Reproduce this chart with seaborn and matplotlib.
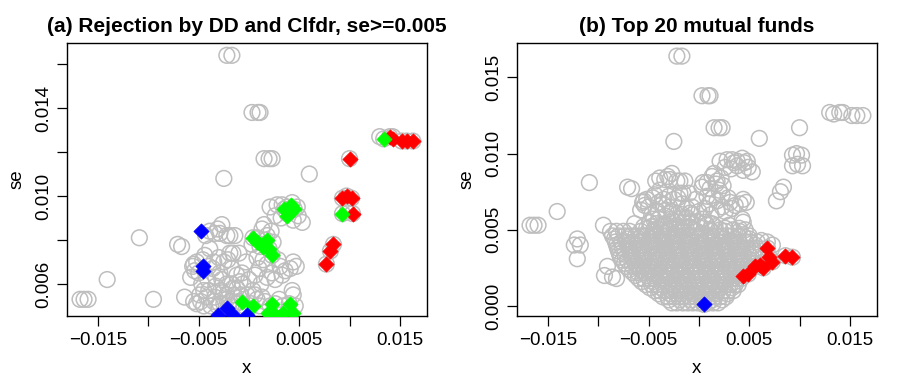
import numpy as np
import pandas as pd
import matplotlib
matplotlib.use("Agg")
import matplotlib.pyplot as plt
import seaborn as sns

sns.set_style("ticks")
plt.rcParams['font.family'] = ['Liberation Sans', 'DejaVu Sans']
plt.rcParams['text.color'] = 'black'
plt.rcParams['axes.labelcolor'] = 'black'

# funds with se >= 0.005
upper_x = [-0.0168, -0.0164, -0.0160, -0.0141, -0.0109, -0.0095, -0.0071, -0.0067, -0.0064,
           -0.0022, -0.0017, 0.0003, 0.0009, 0.0011, 0.0015, 0.0020, 0.0023, -0.0025, 0.0060,
           0.0100, 0.0130, 0.0134, 0.0140, 0.0143, 0.0152, 0.0157, 0.0163,
           0.0093, 0.0102, 0.0097, 0.0093, 0.0103, 0.0098, 0.0084, 0.0081, 0.0077,
           0.0021, 0.0028, 0.0033, 0.0038, 0.0043, 0.0048, 0.0053, 0.0044, 0.0026, 0.0032,
           0.0049, 0.0038, 0.0045, 0.0035,
           0.0013, 0.0018, 0.0008, 0.0004, 0.0015, 0.0022, 0.0024, 0.0011, 0.0020, 0.0023,
           0.0017, 0.0003,
           0.0018, 0.0029, 0.0044, 0.0041, 0.0023, 0.0033, 0.0018, 0.0031, 0.0036, 0.0047,
           0.0026, 0.0043, 0.0044,
           -0.0039, -0.0034, -0.0027, -0.0029, -0.0022, -0.0019, -0.0014, -0.0043, -0.0031,
           -0.0039, -0.0019, -0.0010, -0.0016, -0.0035, -0.0025, -0.0030, -0.0044, -0.0021,
           -0.0055, -0.0054, -0.0056, -0.0050, -0.0017, -0.0036, -0.0029, -0.0027, -0.0017,
           -0.0009, -0.0022, -0.0033, -0.0041, -0.0047, -0.0012,
           -0.0049, -0.0042, -0.0035, -0.0029, -0.0022, -0.0015, -0.0012, -0.0006, 0.0004,
           -0.0016, -0.0002, -0.0022, -0.0052, -0.0045, -0.0038, -0.0031, -0.0025, -0.0018,
           -0.0010, -0.0005, 0.0002, 0.0008, 0.0011, -0.0008, -0.0026, -0.0040,
           0.0026, 0.0034, 0.0016, 0.0021, 0.0040, 0.0046, 0.0030,
           -0.0058, -0.0052, -0.0046, -0.0040, -0.0033, -0.0045, -0.0028, -0.0007, 0.0000,
           0.0006, 0.0012, 0.0010, 0.0008, 0.0014, -0.0003, -0.0055, -0.0048, -0.0034,
           -0.0019, -0.0013, 0.0006, 0.0013]
upper_se = [0.0053, 0.0053, 0.0053, 0.0062, 0.0081, 0.0053, 0.0078, 0.0077, 0.0054,
            0.0164, 0.0164, 0.0138, 0.0138, 0.0138, 0.0117, 0.0117, 0.0117, 0.0108, 0.0110,
            0.0117, 0.0127, 0.0126, 0.0127, 0.0127, 0.0125, 0.0125, 0.0125,
            0.0099, 0.0099, 0.0100, 0.0092, 0.0092, 0.0093, 0.0078, 0.0075, 0.0069,
            0.0095, 0.0096, 0.0096, 0.0095, 0.0097, 0.0095, 0.0088, 0.0089, 0.0091, 0.0090,
            0.0091, 0.0092, 0.0094, 0.0094,
            0.0085, 0.0082, 0.0081, 0.0081, 0.0087, 0.0084, 0.0079, 0.0077, 0.0076, 0.0073,
            0.0080, 0.0078,
            0.0069, 0.0071, 0.0070, 0.0067, 0.0065, 0.0064, 0.0063, 0.0068, 0.0066, 0.0068,
            0.0062, 0.0057, 0.0055,
            0.0084, 0.0083, 0.0087, 0.0083, 0.0082, 0.0082, 0.0082, 0.0082, 0.0085,
            0.0076, 0.0074, 0.0074, 0.0074, 0.0070, 0.0070, 0.0072, 0.0073, 0.0071,
            0.0069, 0.0066, 0.0068, 0.0065, 0.0067, 0.0067, 0.0065, 0.0062, 0.0060,
            0.0061, 0.0060, 0.0063, 0.0062, 0.0060, 0.0064,
            0.0055, 0.0054, 0.0052, 0.0051, 0.0053, 0.0055, 0.0058, 0.0060, 0.0057,
            0.0058, 0.0055, 0.0055, 0.0051, 0.0050, 0.0050, 0.0050, 0.0051, 0.0050,
            0.0052, 0.0050, 0.0051, 0.0053, 0.0050, 0.0055, 0.0056, 0.0057,
            0.0051, 0.0050, 0.0052, 0.0050, 0.0051, 0.0050, 0.0053,
            0.0063, 0.0070, 0.0071, 0.0068, 0.0059, 0.0057, 0.0057, 0.0065, 0.0062,
            0.0064, 0.0060, 0.0067, 0.0072, 0.0071, 0.0070, 0.0052, 0.0052, 0.0054,
            0.0052, 0.0051, 0.0055, 0.0054]

# scattered funds with se < 0.005 outside the main cloud
loose_x = [-0.0124, -0.0121, -0.0118, -0.0121, -0.0094, -0.0091, -0.0086, -0.0082,
           0.0062, 0.0068, 0.0073]
loose_se = [0.0040, 0.0044, 0.0040, 0.0031, 0.0020, 0.0026, 0.0019, 0.0018,
            0.0043, 0.0042, 0.0040]

# main cloud of panel b, one row of funds per se level
cloud_se = [0.0002, 0.0006, 0.0010, 0.0014, 0.0018, 0.0022, 0.0026, 0.0030,
            0.0034, 0.0038, 0.0042, 0.0046, 0.0049,
            0.0004, 0.0008, 0.0012, 0.0016, 0.0020, 0.0024, 0.0028, 0.0032,
            0.0036, 0.0040, 0.0044]
cloud_x = [
    [-0.0027, -0.0022, -0.0016, -0.0011, -0.0006, -0.0001, 0.0004, 0.0009, 0.0014, 0.0019],
    [-0.0036, -0.0031, -0.0025, -0.0020, -0.0015, -0.0010, -0.0004, 0.0001, 0.0006, 0.0011,
     0.0016, 0.0021, 0.0027],
    [-0.0044, -0.0039, -0.0034, -0.0028, -0.0023, -0.0018, -0.0012, -0.0007, -0.0002, 0.0003,
     0.0008, 0.0013, 0.0019, 0.0024, 0.0029, 0.0034],
    [-0.0053, -0.0047, -0.0042, -0.0036, -0.0031, -0.0026, -0.0020, -0.0015, -0.0010, -0.0005,
     0.0000, 0.0005, 0.0011, 0.0016, 0.0021, 0.0026, 0.0031, 0.0036, 0.0039],
    [-0.0060, -0.0055, -0.0049, -0.0044, -0.0038, -0.0033, -0.0028, -0.0022, -0.0017, -0.0012,
     -0.0007, -0.0002, 0.0003, 0.0008, 0.0013, 0.0018, 0.0023, 0.0028, 0.0033, 0.0038, 0.0042],
    [-0.0066, -0.0061, -0.0055, -0.0050, -0.0045, -0.0039, -0.0034, -0.0029, -0.0024, -0.0018,
     -0.0013, -0.0008, -0.0003, 0.0002, 0.0007, 0.0012, 0.0017, 0.0022, 0.0027, 0.0032,
     0.0037, 0.0041, 0.0045],
    [-0.0072, -0.0066, -0.0061, -0.0056, -0.0050, -0.0045, -0.0040, -0.0034, -0.0029, -0.0024,
     -0.0019, -0.0013, -0.0008, -0.0003, 0.0002, 0.0007, 0.0012, 0.0018, 0.0023, 0.0028,
     0.0033, 0.0038, 0.0043, 0.0048],
    [-0.0076, -0.0071, -0.0065, -0.0060, -0.0055, -0.0049, -0.0044, -0.0039, -0.0033, -0.0028,
     -0.0023, -0.0017, -0.0012, -0.0007, -0.0002, 0.0003, 0.0009, 0.0014, 0.0019, 0.0024,
     0.0030, 0.0035, 0.0040, 0.0045, 0.0051],
    [-0.0079, -0.0074, -0.0068, -0.0063, -0.0058, -0.0052, -0.0047, -0.0041, -0.0036, -0.0031,
     -0.0025, -0.0020, -0.0015, -0.0010, -0.0004, 0.0001, 0.0006, 0.0012, 0.0017, 0.0022,
     0.0028, 0.0033, 0.0038, 0.0044, 0.0049, 0.0054],
    [-0.0081, -0.0076, -0.0070, -0.0065, -0.0059, -0.0054, -0.0049, -0.0043, -0.0038, -0.0033,
     -0.0027, -0.0022, -0.0017, -0.0011, -0.0006, -0.0001, 0.0005, 0.0010, 0.0015, 0.0021,
     0.0026, 0.0031, 0.0037, 0.0042, 0.0047, 0.0052, 0.0057],
    [-0.0083, -0.0077, -0.0072, -0.0066, -0.0061, -0.0056, -0.0050, -0.0045, -0.0040, -0.0034,
     -0.0029, -0.0024, -0.0018, -0.0013, -0.0008, -0.0002, 0.0003, 0.0008, 0.0014, 0.0019,
     0.0024, 0.0030, 0.0035, 0.0040, 0.0046, 0.0051, 0.0058],
    [-0.0086, -0.0080, -0.0074, -0.0068, -0.0063, -0.0057, -0.0052, -0.0047, -0.0041, -0.0036,
     -0.0031, -0.0025, -0.0020, -0.0015, -0.0009, -0.0004, 0.0001, 0.0007, 0.0012, 0.0017,
     0.0023, 0.0028, 0.0033, 0.0039, 0.0044, 0.0050],
    [-0.0088, -0.0082, -0.0075, -0.0069, -0.0058, -0.0044, -0.0030, -0.0016, -0.0002, 0.0012,
     0.0026, 0.0040],
    [-0.0030, -0.0019, -0.0008, 0.0003, 0.0013, 0.0023],
    [-0.0040, -0.0029, -0.0018, -0.0005, 0.0006, 0.0017, 0.0028],
    [-0.0049, -0.0038, -0.0026, -0.0014, -0.0003, 0.0009, 0.0021, 0.0033],
    [-0.0057, -0.0046, -0.0034, -0.0023, -0.0011, 0.0001, 0.0013, 0.0025, 0.0036],
    [-0.0063, -0.0052, -0.0040, -0.0029, -0.0016, -0.0004, 0.0008, 0.0020, 0.0032, 0.0040],
    [-0.0069, -0.0058, -0.0047, -0.0036, -0.0025, -0.0013, -0.0001, 0.0011, 0.0024, 0.0036,
     0.0046],
    [-0.0074, -0.0063, -0.0052, -0.0041, -0.0030, -0.0018, -0.0006, 0.0006, 0.0018, 0.0030,
     0.0042, 0.0050],
    [-0.0078, -0.0066, -0.0054, -0.0043, -0.0031, -0.0019, -0.0007, 0.0005, 0.0017, 0.0029,
     0.0041, 0.0052],
    [-0.0080, -0.0068, -0.0056, -0.0044, -0.0032, -0.0020, -0.0008, 0.0004, 0.0016, 0.0028,
     0.0040, 0.0055],
    [-0.0082, -0.0070, -0.0058, -0.0046, -0.0034, -0.0022, -0.0010, 0.0002, 0.0014, 0.0026,
     0.0038, 0.0056],
    [-0.0084, -0.0072, -0.0060, -0.0048, -0.0036, -0.0024, -0.0012, 0.0000, 0.0012, 0.0024,
     0.0036, 0.0050],
]

# panel a: rejections
a_red_x = [0.0100, 0.0140, 0.0143, 0.0152, 0.0157, 0.0163, 0.0093, 0.0102, 0.0097, 0.0103,
           0.0084, 0.0081, 0.0077]
a_red_se = [0.0117, 0.0127, 0.0126, 0.0125, 0.0125, 0.0125, 0.0099, 0.0099, 0.0100, 0.0092,
            0.0078, 0.0075, 0.0069]
a_green_x = [0.0134, 0.0093, 0.0035, 0.0042, 0.0045, 0.0038, 0.0004, 0.0008, 0.0018, 0.0014,
             0.0020, 0.0023, -0.0007, 0.0004, 0.0023, 0.0019, 0.0041, 0.0044, 0.0034, 0.0026]
a_green_se = [0.0126, 0.0092, 0.0094, 0.0096, 0.0094, 0.0091, 0.0081, 0.0079, 0.0080, 0.0077,
              0.0076, 0.0073, 0.0052, 0.0050, 0.0051, 0.0047, 0.0051, 0.0047, 0.0047, 0.0046]
a_blue_x = [-0.0048, -0.0046, -0.0046, -0.0022, -0.0031, -0.0016, -0.0002]
a_blue_se = [0.0084, 0.0068, 0.0066, 0.0049, 0.0046, 0.0046, 0.0046]

# panel b: top 20 funds
b_red_x = [0.0068, 0.0073, 0.0070, 0.0086, 0.0093, 0.0064, 0.0056, 0.0049, 0.0044, 0.0061]
b_red_se = [0.0038, 0.0029, 0.0032, 0.0033, 0.0032, 0.0025, 0.0026, 0.0021, 0.0020, 0.0027]
b_blue_x = [0.0005]
b_blue_se = [0.0001]

cloud = pd.DataFrame({'x': [v for row in cloud_x for v in row],
                      'se': [s for s, row in zip(cloud_se, cloud_x) for _ in row]})
funds = pd.concat([pd.DataFrame({'x': upper_x, 'se': upper_se}),
                   pd.DataFrame({'x': loose_x, 'se': loose_se}),
                   cloud,
                   pd.DataFrame({'x': b_red_x, 'se': b_red_se}),
                   pd.DataFrame({'x': b_blue_x, 'se': b_blue_se})], ignore_index=True)

grey = '#BEBEBE'
fig = plt.figure(figsize=(9, 3.84), dpi=100)
ax1 = fig.add_axes([0.0744, 0.177, 0.4, 0.711])
ax2 = fig.add_axes([0.5744, 0.177, 0.4, 0.711])


def circles(ax, d):
    sns.scatterplot(data=d, x='x', y='se', ax=ax, s=128, color=grey, facecolor='none',
                    edgecolor=grey, linewidth=1.1, zorder=2)


def diamonds(ax, xs, ys, col):
    sns.scatterplot(x=xs, y=ys, ax=ax, marker='D', s=60, color=col, edgecolor=col,
                    linewidth=0.5, zorder=3)


circles(ax1, funds[funds['se'] >= 0.005])
diamonds(ax1, a_red_x, a_red_se, '#FF0000')
diamonds(ax1, a_green_x, a_green_se, '#00FF00')
diamonds(ax1, a_blue_x, a_blue_se, '#0000FF')

circles(ax2, funds)
diamonds(ax2, b_red_x, b_red_se, '#FF0000')
diamonds(ax2, b_blue_x, b_blue_se, '#0000FF')

xt = [-0.015, -0.010, -0.005, 0.0, 0.005, 0.010, 0.015]
xl = ['\u22120.015', '', '\u22120.005', '', '0.005', '', '0.015']
yt1 = [0.006, 0.008, 0.010, 0.012, 0.014, 0.016]
yl1 = ['0.006', '', '0.010', '', '0.014', '']
yt2 = [0.000, 0.005, 0.010, 0.015]
yl2 = ['0.000', '0.005', '0.010', '0.015']

for ax, yt, yl, ylim, title in [
        (ax1, yt1, yl1, (0.00454, 0.01696), '(a) Rejection by DD and Clfdr, se>=0.005'),
        (ax2, yt2, yl2, (-0.00066, 0.01726), '(b) Top 20 mutual funds')]:
    ax.set_xlim(-0.0181, 0.0177)
    ax.set_ylim(*ylim)
    ax.set_xticks(xt)
    ax.set_xticklabels(xl)
    ax.set_yticks(yt)
    ax.set_yticklabels(yl, rotation=90, va='center')
    ax.tick_params(axis='both', direction='out', length=7.5, width=0.9, labelsize=13.5,
                   colors='black', pad=3)
    ax.tick_params(axis='x', pad=4)
    for sp in ax.spines.values():
        sp.set_visible(True)
        sp.set_linewidth(1.0)
        sp.set_color('black')
    ax.set_xlabel('x', fontsize=13.5, labelpad=8)
    ax.set_ylabel('se', fontsize=13.5, labelpad=7)
    ax.set_title(title, fontsize=15, fontweight='bold', pad=8)
    ax.grid(False)

fig.savefig('out.png', dpi=100)
